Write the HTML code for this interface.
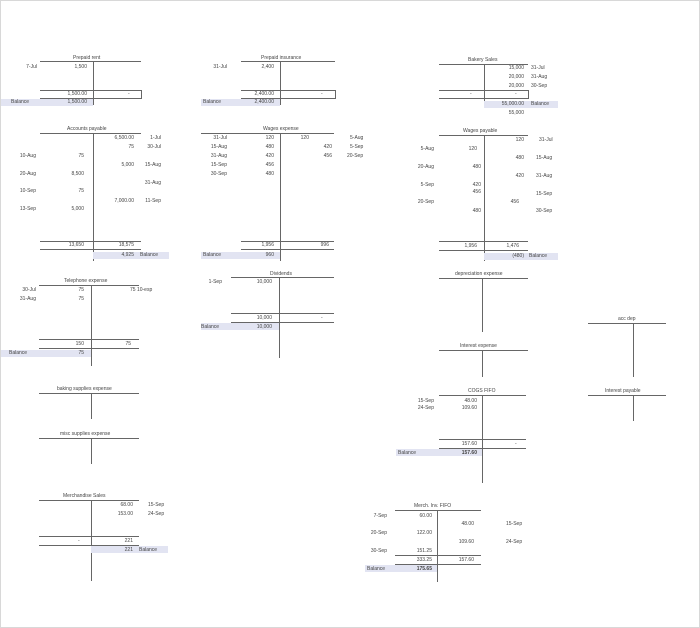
<!DOCTYPE html>
<html><head><meta charset="utf-8"><style>
html,body{margin:0;padding:0;background:#fff}
#c{position:relative;width:698px;height:626px;border:1px solid #d8d8d8;overflow:hidden;font-family:"Liberation Sans",sans-serif;font-size:5px;color:#444}
#c div{position:absolute}
.h{height:1px;background:#666}
.v{width:1px;background:#666}
.t{line-height:6px;white-space:nowrap}
.s{background:#e2e4f2;height:7px}
.b{font-weight:bold}
.bx{border:1px solid #666;border-left:none;box-sizing:border-box}
</style></head><body><div id="c">

<!-- Prepaid rent -->
<div class="t" style="left:72px;top:54px">Prepaid rent</div>
<div class="h" style="left:39px;top:60px;width:101px"></div>
<div class="v" style="left:92px;top:60px;height:44px"></div>
<div class="t" style="right:662px;top:63px">7-Jul</div>
<div class="t" style="right:612px;top:63px">1,500</div>
<div class="bx" style="left:39px;top:89px;width:102px;height:9px"></div>
<div class="t" style="right:612px;top:90px">1,500.00</div>
<div class="t" style="left:127px;top:90px">-</div>
<div class="s" style="left:0;top:98px;width:92px"></div>
<div class="t" style="left:10px;top:98px">Balance</div>
<div class="t" style="right:612px;top:98px">1,500.00</div>

<!-- Prepaid insurance -->
<div class="t" style="left:260px;top:54px">Prepaid insurance</div>
<div class="h" style="left:240px;top:60px;width:94px"></div>
<div class="v" style="left:279px;top:60px;height:44px"></div>
<div class="t" style="right:472px;top:63px">31-Jul</div>
<div class="t" style="right:425px;top:63px">2,400</div>
<div class="bx" style="left:240px;top:89px;width:95px;height:9px"></div>
<div class="t" style="right:425px;top:90px">2,400.00</div>
<div class="t" style="left:320px;top:90px">-</div>
<div class="s" style="left:200px;top:98px;width:79px"></div>
<div class="t" style="left:202px;top:98px">Balance</div>
<div class="t" style="right:425px;top:98px">2,400.00</div>

<!-- Bakery Sales -->
<div class="t" style="left:467px;top:56px">Bakery Sales</div>
<div class="h" style="left:438px;top:63px;width:89px"></div>
<div class="v" style="left:483px;top:63px;height:44px"></div>
<div class="t" style="right:175px;top:64px">15,000</div><div class="t" style="left:530px;top:64px">31-Jul</div>
<div class="t" style="right:175px;top:73px">20,000</div><div class="t" style="left:530px;top:73px">31-Aug</div>
<div class="t" style="right:175px;top:82px">20,000</div><div class="t" style="left:530px;top:82px">30-Sep</div>
<div class="bx" style="left:438px;top:89px;width:90px;height:9px"></div>
<div class="t" style="left:469px;top:90px">-</div><div class="t" style="left:514px;top:90px">-</div>
<div class="s" style="left:483px;top:100px;width:74px"></div>
<div class="t" style="right:175px;top:100px">55,000.00</div><div class="t" style="left:530px;top:100px">Balance</div>
<div class="t" style="right:175px;top:109px">55,000</div>

<!-- Accounts payable -->
<div class="t" style="left:66px;top:125px">Accounts payable</div>
<div class="h" style="left:39px;top:132px;width:101px"></div>
<div class="v" style="left:92px;top:132px;height:128px"></div>
<div class="t" style="right:565px;top:134px">6,500.00</div><div class="t" style="right:538px;top:134px">1-Jul</div>
<div class="t" style="right:565px;top:143px">75</div><div class="t" style="right:538px;top:143px">30-Jul</div>
<div class="t" style="right:663px;top:152px">10-Aug</div><div class="t" style="right:615px;top:152px">75</div>
<div class="t" style="right:565px;top:161px">5,000</div><div class="t" style="right:538px;top:161px">15-Aug</div>
<div class="t" style="right:663px;top:170px">20-Aug</div><div class="t" style="right:615px;top:170px">8,500</div>
<div class="t" style="right:538px;top:179px">31-Aug</div>
<div class="t" style="right:663px;top:187px">10-Sep</div><div class="t" style="right:615px;top:187px">75</div>
<div class="t" style="right:565px;top:197px">7,000.00</div><div class="t" style="right:538px;top:197px">11-Sep</div>
<div class="t" style="right:663px;top:205px">13-Sep</div><div class="t" style="right:615px;top:205px">5,000</div>
<div class="h" style="left:39px;top:240px;width:101px"></div>
<div class="t" style="right:615px;top:241px">13,650</div><div class="t" style="right:565px;top:241px">18,575</div>
<div class="h" style="left:39px;top:248px;width:101px"></div>
<div class="s" style="left:92px;top:251px;width:76px"></div>
<div class="t" style="right:565px;top:251px">4,925</div><div class="t" style="left:139px;top:251px">Balance</div>

<!-- Wages expense -->
<div class="t" style="left:262px;top:125px">Wages expense</div>
<div class="h" style="left:200px;top:132px;width:133px"></div>
<div class="v" style="left:279px;top:132px;height:128px"></div>
<div class="t" style="right:472px;top:134px">31-Jul</div><div class="t" style="right:425px;top:134px">120</div><div class="t" style="right:390px;top:134px">120</div><div class="t" style="left:349px;top:134px">5-Aug</div>
<div class="t" style="right:472px;top:143px">15-Aug</div><div class="t" style="right:425px;top:143px">480</div><div class="t" style="right:367px;top:143px">420</div><div class="t" style="left:349px;top:143px">5-Sep</div>
<div class="t" style="right:472px;top:152px">31-Aug</div><div class="t" style="right:425px;top:152px">420</div><div class="t" style="right:367px;top:152px">456</div><div class="t" style="left:346px;top:152px">20-Sep</div>
<div class="t" style="right:472px;top:161px">15-Sep</div><div class="t" style="right:425px;top:161px">456</div>
<div class="t" style="right:472px;top:170px">30-Sep</div><div class="t" style="right:425px;top:170px">480</div>
<div class="h" style="left:240px;top:240px;width:93px"></div>
<div class="t" style="right:425px;top:241px">1,956</div><div class="t" style="right:370px;top:241px">996</div>
<div class="h" style="left:240px;top:248px;width:93px"></div>
<div class="s" style="left:200px;top:251px;width:79px"></div>
<div class="t" style="left:202px;top:251px">Balance</div><div class="t" style="right:425px;top:251px">960</div>

<!-- Wages payable -->
<div class="t" style="left:462px;top:127px">Wages payable</div>
<div class="h" style="left:438px;top:134px;width:89px"></div>
<div class="v" style="left:483px;top:134px;height:126px"></div>
<div class="t" style="right:175px;top:136px">120</div><div class="t" style="left:538px;top:136px">31-Jul</div>
<div class="t" style="right:265px;top:145px">5-Aug</div><div class="t" style="right:222px;top:145px">120</div>
<div class="t" style="right:175px;top:154px">480</div><div class="t" style="left:535px;top:154px">15-Aug</div>
<div class="t" style="right:265px;top:163px">20-Aug</div><div class="t" style="right:218px;top:163px">480</div>
<div class="t" style="right:175px;top:172px">420</div><div class="t" style="left:535px;top:172px">31-Aug</div>
<div class="t" style="right:265px;top:181px">5-Sep</div><div class="t" style="right:218px;top:181px">420</div>
<div class="t" style="right:218px;top:188px">456</div><div class="t" style="left:535px;top:190px">15-Sep</div>
<div class="t" style="right:265px;top:198px">20-Sep</div><div class="t" style="right:180px;top:198px">456</div>
<div class="t" style="right:218px;top:207px">480</div><div class="t" style="left:535px;top:207px">30-Sep</div>
<div class="h" style="left:438px;top:240px;width:89px"></div>
<div class="t" style="right:222px;top:242px">1,956</div><div class="t" style="right:180px;top:242px">1,476</div>
<div class="h" style="left:438px;top:249px;width:89px"></div>
<div class="s" style="left:483px;top:252px;width:74px"></div>
<div class="t" style="right:175px;top:252px">(480)</div><div class="t" style="left:528px;top:252px">Balance</div>

<!-- Telephone expense -->
<div class="t" style="left:63px;top:277px">Telephone expense</div>
<div class="h" style="left:38px;top:284px;width:100px"></div>
<div class="v" style="left:90px;top:284px;height:81px"></div>
<div class="t" style="right:663px;top:286px">30-Jul</div><div class="t" style="right:615px;top:286px">75</div><div class="t" style="left:129px;top:286px">75 10-esp</div>
<div class="t" style="right:663px;top:295px">31-Aug</div><div class="t" style="right:615px;top:295px">75</div>
<div class="h" style="left:38px;top:338px;width:100px"></div>
<div class="t" style="right:615px;top:340px">150</div><div class="t" style="right:568px;top:340px">75</div>
<div class="h" style="left:38px;top:347px;width:100px"></div>
<div class="s" style="left:0;top:349px;width:90px"></div>
<div class="t" style="left:8px;top:349px">Balance</div><div class="t" style="right:615px;top:349px">75</div>

<!-- Dividends -->
<div class="t" style="left:269px;top:270px">Dividends</div>
<div class="h" style="left:230px;top:276px;width:103px"></div>
<div class="v" style="left:278px;top:276px;height:81px"></div>
<div class="t" style="right:477px;top:278px">1-Sep</div><div class="t" style="right:427px;top:278px">10,000</div>
<div class="h" style="left:230px;top:312px;width:103px"></div>
<div class="t" style="right:427px;top:314px">10,000</div><div class="t" style="left:320px;top:314px">-</div>
<div class="h" style="left:230px;top:321px;width:103px"></div>
<div class="s" style="left:200px;top:322px;width:78px"></div>
<div class="t" style="left:200px;top:323px">Balance</div><div class="t" style="right:427px;top:323px">10,000</div>

<!-- baking / misc -->
<div class="t" style="left:56px;top:385px">baking supplies expense</div>
<div class="h" style="left:38px;top:392px;width:100px"></div>
<div class="v" style="left:90px;top:392px;height:26px"></div>
<div class="t" style="left:59px;top:430px">misc supplies expense</div>
<div class="h" style="left:38px;top:437px;width:100px"></div>
<div class="v" style="left:90px;top:437px;height:26px"></div>

<!-- Merchandise Sales -->
<div class="t" style="left:62px;top:492px">Merchandise Sales</div>
<div class="h" style="left:38px;top:499px;width:100px"></div>
<div class="v" style="left:90px;top:499px;height:81px"></div>
<div class="t" style="right:566px;top:501px">68.00</div><div class="t" style="left:147px;top:501px">15-Sep</div>
<div class="t" style="right:566px;top:510px">153.00</div><div class="t" style="left:147px;top:510px">24-Sep</div>
<div class="h" style="left:38px;top:535px;width:100px"></div>
<div class="t" style="left:77px;top:537px">-</div><div class="t" style="right:566px;top:537px">221</div>
<div class="h" style="left:38px;top:544px;width:100px"></div>
<div class="s" style="left:90px;top:545px;width:77px"></div>
<div class="t" style="right:566px;top:546px">221</div><div class="t" style="left:138px;top:546px">Balance</div>

<!-- depreciation / interest expense -->
<div class="t" style="left:454px;top:270px">depreciation expense</div>
<div class="h" style="left:438px;top:277px;width:89px"></div>
<div class="v" style="left:481px;top:277px;height:54px"></div>
<div class="t" style="left:459px;top:342px">Interest expense</div>
<div class="h" style="left:438px;top:349px;width:89px"></div>
<div class="v" style="left:481px;top:349px;height:27px"></div>

<!-- acc dep / interest payable -->
<div class="t" style="left:617px;top:315px">acc dep</div>
<div class="h" style="left:587px;top:322px;width:78px"></div>
<div class="v" style="left:632px;top:322px;height:54px"></div>
<div class="t" style="left:604px;top:387px">Interest payable</div>
<div class="h" style="left:587px;top:394px;width:78px"></div>
<div class="v" style="left:632px;top:394px;height:26px"></div>

<!-- COGS FIFO -->
<div class="t" style="left:467px;top:387px">COGS FIFO</div>
<div class="h" style="left:438px;top:394px;width:87px"></div>
<div class="v" style="left:481px;top:394px;height:88px"></div>
<div class="t" style="right:265px;top:397px">15-Sep</div><div class="t" style="right:222px;top:397px">48.00</div>
<div class="t" style="right:265px;top:404px">24-Sep</div><div class="t" style="right:222px;top:404px">109.60</div>
<div class="h" style="left:438px;top:438px;width:87px"></div>
<div class="t" style="right:222px;top:440px">157.60</div><div class="t" style="left:514px;top:440px">-</div>
<div class="h" style="left:438px;top:447px;width:87px"></div>
<div class="s" style="left:395px;top:448px;width:86px"></div>
<div class="t" style="left:397px;top:449px">Balance</div><div class="t b" style="right:222px;top:449px">157.60</div>

<!-- Merch. Inv. FIFO -->
<div class="t" style="left:413px;top:502px">Merch. Inv. FIFO</div>
<div class="h" style="left:394px;top:509px;width:86px"></div>
<div class="v" style="left:436px;top:509px;height:72px"></div>
<div class="t" style="right:312px;top:512px">7-Sep</div><div class="t" style="right:267px;top:512px">60.00</div>
<div class="t" style="right:225px;top:520px">48.00</div><div class="t" style="left:505px;top:520px">15-Sep</div>
<div class="t" style="right:312px;top:529px">20-Sep</div><div class="t" style="right:267px;top:529px">122.00</div>
<div class="t" style="right:225px;top:538px">109.60</div><div class="t" style="left:505px;top:538px">24-Sep</div>
<div class="t" style="right:312px;top:547px">30-Sep</div><div class="t" style="right:267px;top:547px">151.25</div>
<div class="h" style="left:394px;top:554px;width:86px"></div>
<div class="t" style="right:267px;top:556px">333.25</div><div class="t" style="right:225px;top:556px">157.60</div>
<div class="h" style="left:394px;top:563px;width:86px"></div>
<div class="s" style="left:364px;top:564px;width:72px"></div>
<div class="t" style="left:366px;top:565px">Balance</div><div class="t b" style="right:267px;top:565px">175.65</div>

</div></body></html>
